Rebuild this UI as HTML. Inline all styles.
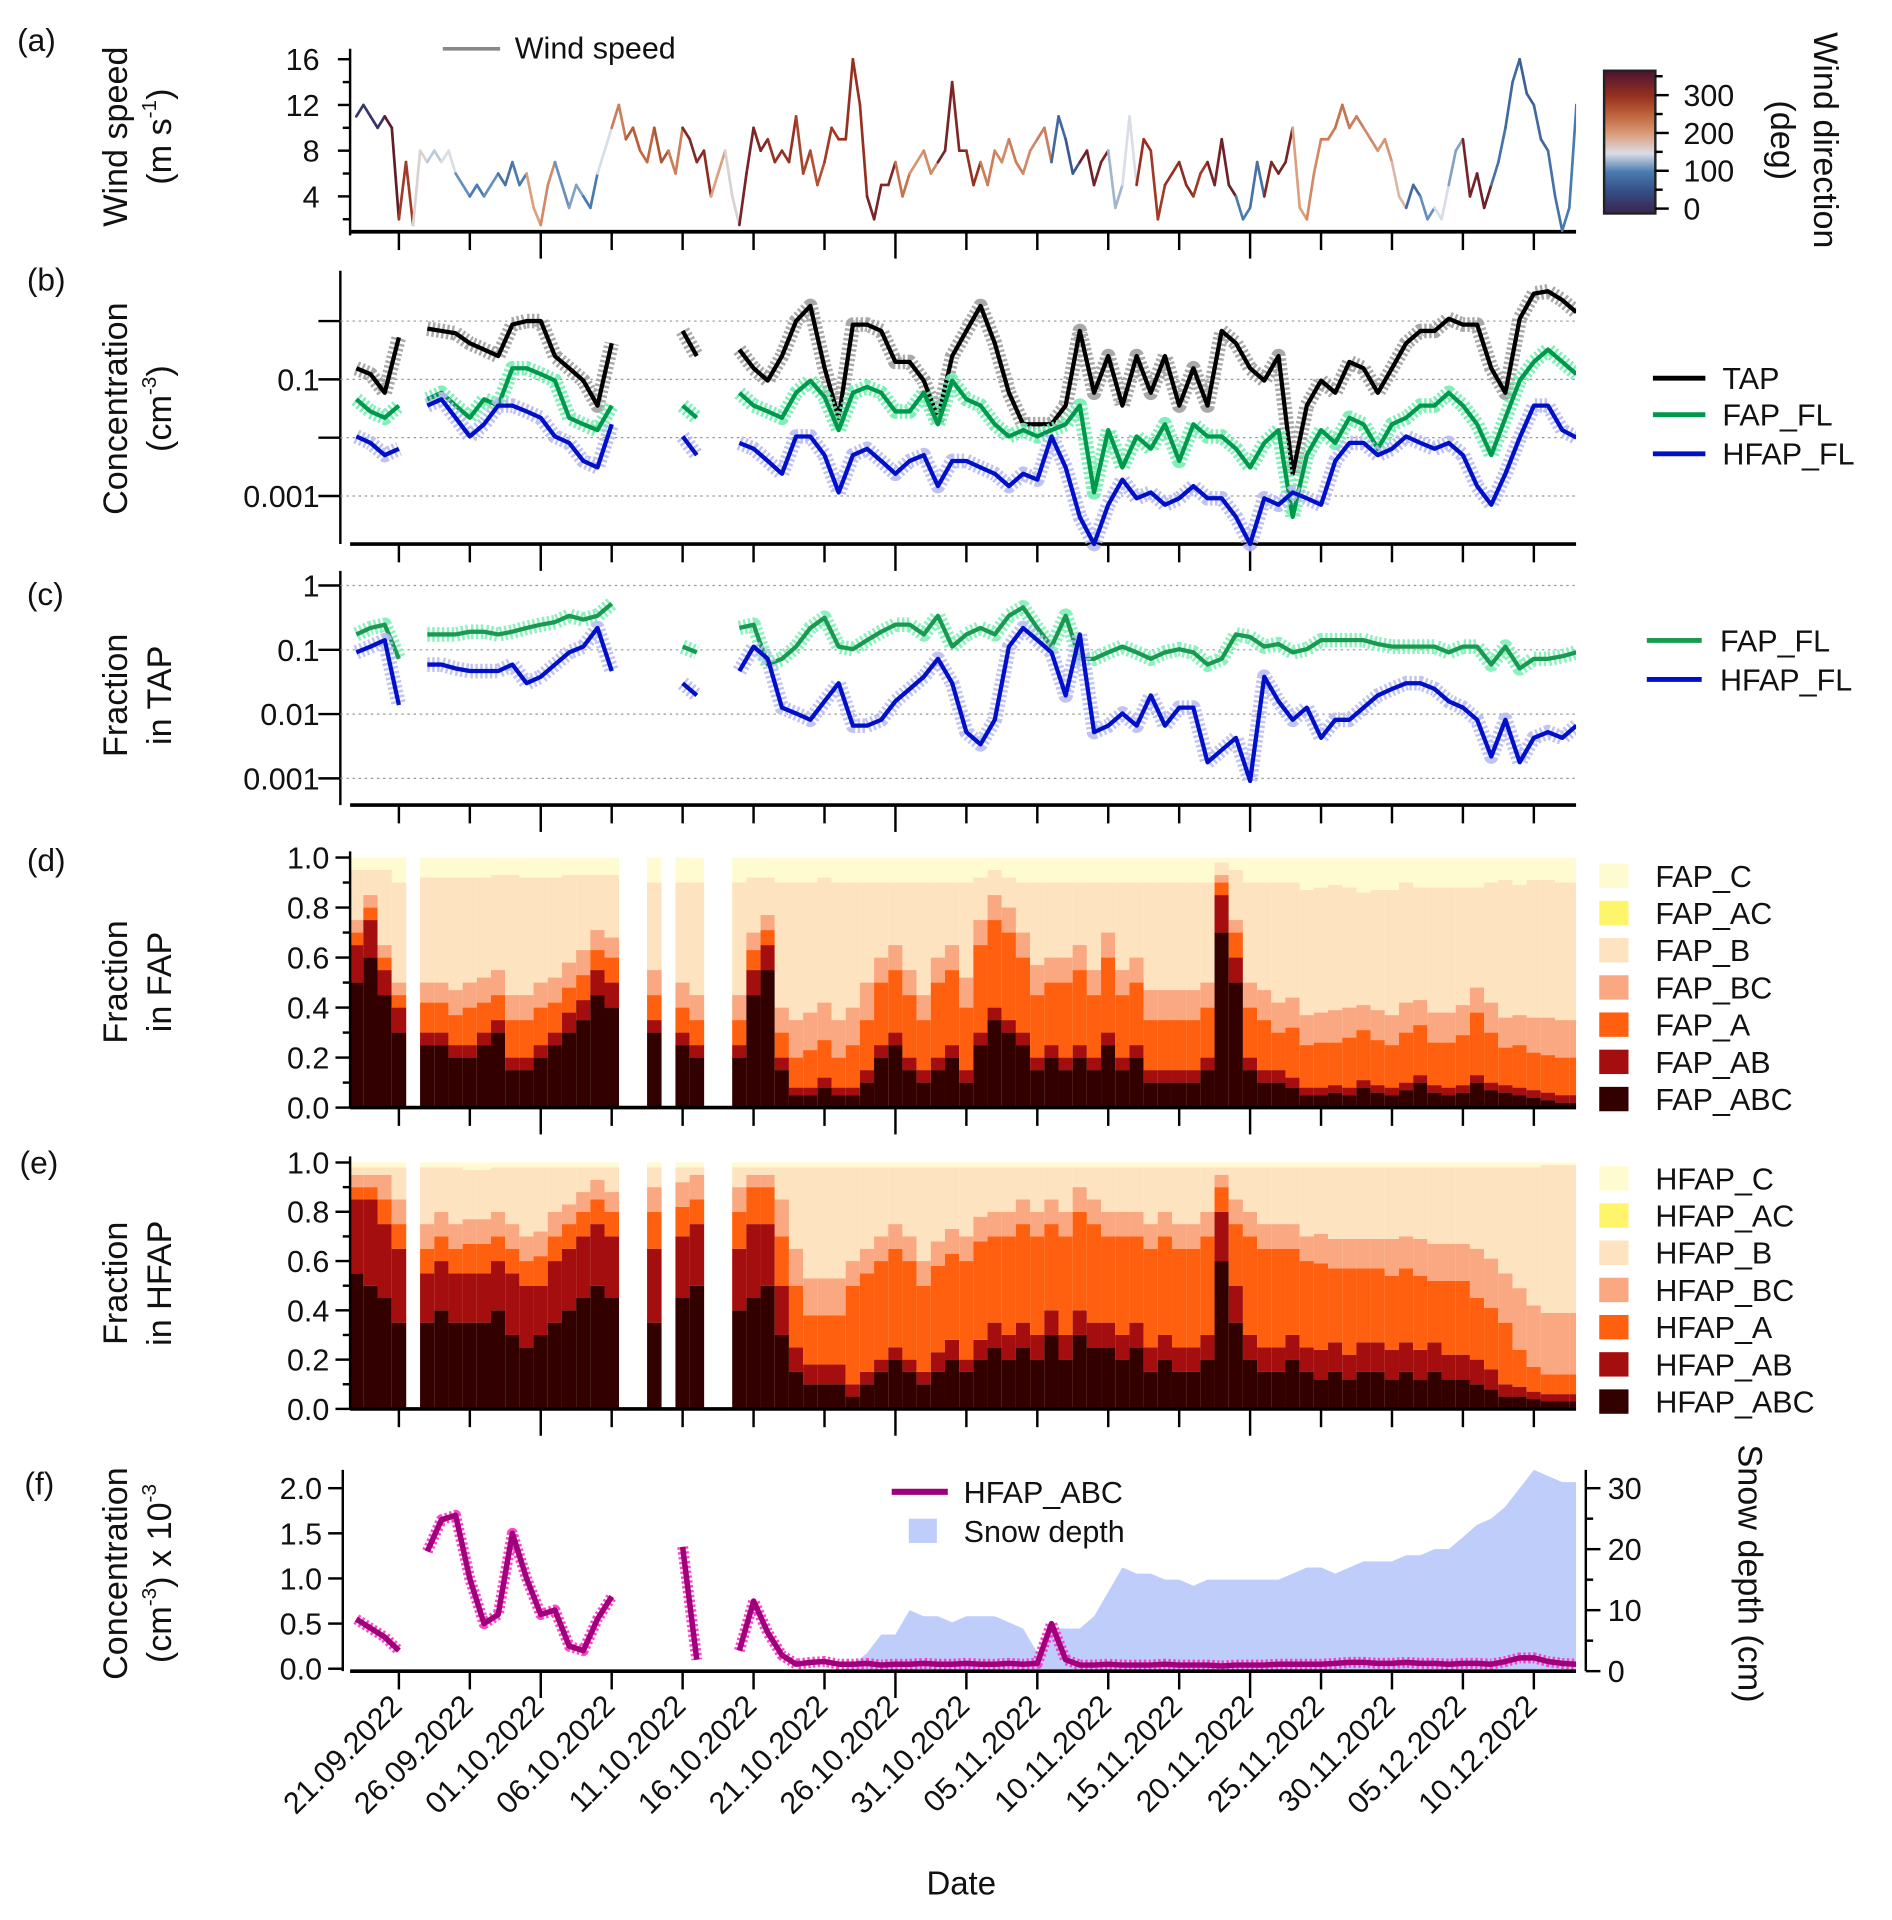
<!DOCTYPE html>
<html><head><meta charset="utf-8"><style>
html,body{margin:0;padding:0;background:#fff;}
svg{display:block;font-family:"Liberation Sans",Arial,sans-serif;}
</style></head><body>
<svg id="fig" width="1892" height="1920" viewBox="0 0 1551 1574" preserveAspectRatio="none" xmlns="http://www.w3.org/2000/svg">
<defs>
<linearGradient id="cbar" x1="0" y1="1" x2="0" y2="0">
<stop offset="0" stop-color="#3b2350"/><stop offset="0.16" stop-color="#354f86"/><stop offset="0.29" stop-color="#4a7bb0"/><stop offset="0.42" stop-color="#d9dde6"/><stop offset="0.55" stop-color="#dba080"/><stop offset="0.68" stop-color="#c0683f"/><stop offset="0.82" stop-color="#973020"/><stop offset="1" stop-color="#4b1430"/>
</linearGradient>
<clipPath id="plotclip"><rect x="287" y="0" width="1005" height="1574"/></clipPath>
</defs>
<g id="layer"></g>
</svg>
<script>
// ---------- DATA ----------
const dayStart = -3; // days relative to 21.09.2022
const tickDays = [0,5,10,15,20,25,30,35,40,45,50,55,60,65,70,75,80];
const tickLabels = ["21.09.2022","26.09.2022","01.10.2022","06.10.2022","11.10.2022","16.10.2022","21.10.2022","26.10.2022","31.10.2022","05.11.2022","10.11.2022","15.11.2022","20.11.2022","25.11.2022","30.11.2022","05.12.2022","10.12.2022"];
// wind speed every half day from day -3
const windSpeed = [11,12,11,10,11,10,2,7,1.5,8,7,8,7,8,6,5,4,5,4,5,6,5,7,5,6,3,1.5,5,7,5,3,5,4,3,6,8,10,12,9,10,8,7,10,7,8,6,10,9,7,8,4,6,8,4,1.5,6,10,8,9,7,8,7,11,6,8,5,7,10,9,9,16,12,4,2,5,5,7,4,6,7,8,6,7,8,14,8,8,5,7,5,8,7,9,7,6,8,9,10,7,11,9,6,7,8,5,7,8,3,5,11,5,9,8,2,5,6,7,5,4,6,7,5,9,5,4,2,3,7,4,7,6,7,10,3,2,6,9,9,10,12,10,11,10,9,8,9,7,4,3,5,4,2,3,2,5,8,9,4,6,3,5,7,10,14,16,13,12,9,8,4,1,3,12,9];
// wind direction per day (deg)
const windDir = [20,10,350,290,160,140,150,110,100,110,90,100,200,220,110,120,100,150,230,260,250,270,230,320,310,200,160,330,320,300,300,280,270,290,300,300,330,320,240,210,220,330,320,300,230,220,230,220,230,80,60,340,330,130,150,300,290,300,310,290,330,340,100,90,320,330,200,220,230,240,230,220,210,180,80,110,150,120,330,340,90,80,70,80,90,100,80];
// panel b: log10 concentration (cm-3), per day, null = no data
const tapLog = [-0.81,-0.91,-1.23,-0.28,null,-0.13,-0.17,-0.21,-0.38,-0.49,-0.6,-0.06,0,0,-0.6,-0.81,-1.02,-1.45,-0.38,null,null,-0.45,null,-0.17,-0.6,null,null,-0.49,-0.81,-1.02,-0.6,0,0.26,-0.8,-1.66,-0.06,-0.06,-0.17,-0.7,-0.7,-1.02,-1.66,-0.6,-0.17,0.26,-0.38,-1.23,-1.77,-1.77,-1.77,-1.45,-0.17,-1.23,-0.6,-1.45,-0.6,-1.23,-0.6,-1.45,-0.81,-1.45,-0.17,-0.38,-0.81,-1.02,-0.6,-2.62,-1.45,-1.02,-1.23,-0.7,-0.81,-1.23,-0.81,-0.38,-0.17,-0.17,0.04,-0.06,-0.06,-0.81,-1.23,0.04,0.47,0.51,0.36,0.15];
const fapFlLog = [-1.34,-1.55,-1.66,-1.45,null,-1.34,-1.23,-1.45,-1.66,-1.34,-1.45,-0.81,-0.81,-0.91,-1.02,-1.66,-1.77,-1.87,-1.45,null,null,-1.77,null,-1.45,-1.66,null,null,-1.23,-1.45,-1.55,-1.66,-1.23,-1.02,-1.3,-1.87,-1.23,-1.13,-1.23,-1.55,-1.55,-1.23,-1.77,-1.02,-1.34,-1.45,-1.77,-1.98,-1.87,-1.98,-1.87,-1.77,-1.45,-2.94,-1.87,-2.51,-1.98,-2.19,-1.77,-2.4,-1.77,-1.98,-1.98,-2.19,-2.51,-2.09,-1.87,-3.36,-2.3,-1.87,-2.09,-1.66,-1.77,-2.19,-1.77,-1.66,-1.45,-1.45,-1.23,-1.45,-1.77,-2.3,-1.66,-1.02,-0.7,-0.49,-0.7,-0.91];
const hfapFlLog = [-1.98,-2.09,-2.3,-2.19,null,-1.45,-1.34,-1.66,-1.98,-1.77,-1.45,-1.45,-1.55,-1.66,-1.98,-2.09,-2.4,-2.51,-1.77,null,null,-1.98,null,-1.98,-2.3,null,null,-2.09,-2.19,-2.4,-2.62,-1.98,-1.98,-2.3,-2.94,-2.3,-2.19,-2.4,-2.62,-2.4,-2.3,-2.83,-2.4,-2.4,-2.51,-2.62,-2.83,-2.62,-2.72,-1.98,-2.51,-3.36,-3.89,-3.15,-2.72,-3.04,-2.94,-3.15,-3.04,-2.83,-3.04,-3.04,-3.36,-3.89,-3.04,-3.15,-2.94,-3.04,-3.15,-2.4,-2.09,-2.09,-2.3,-2.19,-1.98,-2.09,-2.19,-2.09,-2.3,-2.83,-3.15,-2.62,-2.0,-1.45,-1.45,-1.87,-2.0];
// panel c: log10 fraction in TAP
const fapFracLog = [-0.76,-0.66,-0.61,-1.14,null,-0.76,-0.76,-0.76,-0.72,-0.72,-0.76,-0.72,-0.66,-0.61,-0.57,-0.47,-0.53,-0.47,-0.28,null,null,-1.04,null,-0.95,-1.04,null,null,-0.66,-0.61,-1.23,-1.14,-0.95,-0.66,-0.5,-0.95,-0.99,-0.85,-0.72,-0.61,-0.61,-0.76,-0.47,-0.95,-0.76,-0.66,-0.76,-0.47,-0.34,-0.66,-0.95,-0.47,-1.14,-1.14,-1.04,-0.95,-1.04,-1.14,-1.04,-0.99,-1.04,-1.23,-1.14,-0.76,-0.8,-0.95,-0.91,-1.04,-0.99,-0.85,-0.85,-0.85,-0.85,-0.91,-0.95,-0.95,-0.95,-0.95,-1.04,-0.95,-0.95,-1.23,-0.95,-1.29,-1.14,-1.14,-1.1,-1.04];
const hfapFracLog = [-1.04,-0.95,-0.85,-1.86,null,-1.23,-1.23,-1.29,-1.33,-1.33,-1.33,-1.23,-1.52,-1.42,-1.23,-1.04,-0.95,-0.66,-1.33,null,null,-1.52,null,-1.52,-1.71,null,null,-1.33,-0.95,-1.14,-1.9,-1.99,-2.09,-1.8,-1.52,-2.18,-2.18,-2.09,-1.8,-1.61,-1.42,-1.14,-1.52,-2.28,-2.47,-2.09,-0.95,-0.66,-0.85,-1.04,-1.71,-0.76,-2.28,-2.18,-1.99,-2.18,-1.71,-2.18,-1.9,-1.9,-2.75,-2.56,-2.37,-3.04,-1.42,-1.8,-2.09,-1.9,-2.37,-2.09,-2.09,-1.9,-1.71,-1.61,-1.52,-1.52,-1.61,-1.8,-1.9,-2.09,-2.66,-2.09,-2.75,-2.37,-2.28,-2.37,-2.18];
// panel d: fraction in FAP per class (C = remainder)
const fapABC = [.5,.6,.45,.3,null,.25,.25,.2,.2,.25,.3,.15,.15,.2,.25,.3,.35,.45,.4,null,null,.3,null,.25,.2,null,null,.2,.45,.55,.15,.05,.05,.08,.05,.05,.1,.2,.25,.15,.1,.15,.2,.1,.25,.35,.3,.25,.15,.2,.15,.2,.15,.25,.15,.2,.1,.1,.1,.1,.15,.7,.5,.15,.1,.1,.08,.05,.05,.06,.05,.08,.06,.05,.07,.1,.06,.05,.06,.1,.07,.06,.05,.04,.03,.02,.02];
const fapAB = [.15,.15,.1,.1,null,.05,.05,.05,.05,.05,.05,.05,.05,.05,.05,.08,.08,.1,.1,null,null,.05,null,.05,.05,null,null,.05,.1,.1,.05,.03,.03,.04,.03,.03,.05,.05,.05,.05,.05,.05,.05,.05,.05,.05,.05,.05,.05,.05,.05,.05,.05,.05,.05,.05,.05,.05,.05,.05,.05,.15,.1,.05,.05,.05,.04,.03,.03,.03,.03,.03,.03,.03,.03,.03,.03,.03,.03,.03,.03,.03,.03,.03,.03,.03,.03];
const fapA = [.05,.05,.05,.05,null,.12,.12,.12,.15,.12,.1,.15,.15,.15,.12,.1,.1,.08,.1,null,null,.1,null,.1,.1,null,null,.1,.08,.06,.1,.12,.15,.15,.12,.17,.2,.25,.25,.25,.2,.3,.3,.25,.35,.35,.35,.3,.25,.25,.3,.3,.25,.3,.25,.25,.2,.2,.2,.2,.2,.05,.1,.2,.2,.15,.2,.17,.18,.17,.2,.2,.18,.17,.2,.2,.17,.18,.2,.25,.2,.15,.17,.15,.15,.15,.15];
const fapBC = [.05,.05,.05,.05,null,.08,.08,.1,.1,.1,.1,.1,.1,.1,.1,.1,.1,.08,.08,null,null,.1,null,.1,.1,null,null,.1,.07,.06,.1,.15,.15,.15,.15,.15,.15,.1,.1,.1,.1,.1,.1,.12,.1,.1,.1,.1,.12,.1,.1,.1,.1,.1,.1,.1,.12,.12,.12,.12,.1,.03,.05,.1,.12,.12,.12,.12,.12,.13,.12,.1,.12,.12,.12,.1,.12,.12,.12,.1,.12,.12,.12,.14,.15,.15,.15];
const fapB = [.2,.1,.3,.4,null,.42,.42,.45,.42,.4,.38,.48,.47,.42,.4,.35,.3,.22,.25,null,null,.35,null,.4,.45,null,null,.45,.22,.15,.5,.55,.52,.5,.55,.5,.4,.3,.25,.35,.45,.3,.25,.38,.17,.1,.12,.2,.33,.3,.3,.25,.35,.2,.35,.3,.43,.43,.43,.43,.4,.05,.2,.4,.43,.48,.46,.5,.5,.5,.48,.45,.48,.5,.48,.45,.5,.5,.47,.4,.48,.55,.52,.55,.55,.55,.55];
// panel e: fraction in HFAP per class
const hfapABC = [.55,.5,.45,.35,null,.35,.4,.35,.35,.35,.4,.3,.25,.3,.35,.4,.45,.5,.45,null,null,.35,null,.45,.5,null,null,.4,.45,.5,.3,.15,.1,.1,.1,.05,.1,.15,.2,.15,.1,.15,.2,.15,.2,.25,.2,.25,.2,.3,.2,.3,.25,.25,.2,.25,.15,.2,.15,.15,.2,.6,.35,.2,.15,.15,.2,.15,.12,.15,.12,.15,.15,.12,.15,.12,.15,.12,.12,.1,.08,.05,.05,.04,.03,.03,.03];
const hfapAB = [.3,.35,.3,.3,null,.2,.2,.2,.2,.2,.2,.25,.25,.2,.25,.25,.25,.25,.25,null,null,.3,null,.25,.25,null,null,.25,.3,.25,.2,.1,.08,.08,.08,.05,.05,.05,.05,.05,.05,.08,.08,.05,.08,.1,.1,.1,.1,.1,.1,.1,.1,.1,.1,.1,.1,.1,.1,.1,.1,.2,.15,.1,.1,.1,.1,.1,.12,.12,.1,.12,.12,.12,.12,.12,.12,.1,.1,.1,.08,.05,.04,.03,.03,.03,.03];
const hfapA = [.05,.05,.1,.1,null,.1,.1,.1,.12,.12,.1,.1,.1,.12,.1,.1,.1,.1,.1,null,null,.15,null,.12,.1,null,null,.15,.15,.15,.2,.25,.2,.2,.2,.4,.4,.4,.4,.4,.35,.35,.35,.4,.4,.35,.4,.4,.4,.35,.4,.4,.4,.35,.4,.35,.4,.4,.4,.4,.4,.1,.25,.4,.4,.4,.35,.35,.35,.3,.35,.3,.3,.3,.3,.3,.25,.3,.3,.25,.25,.25,.15,.1,.08,.08,.08];
const hfapBC = [.05,.05,.1,.1,null,.1,.1,.1,.1,.1,.1,.1,.1,.1,.1,.08,.08,.08,.08,null,null,.1,null,.1,.1,null,null,.1,.05,.05,.15,.15,.15,.15,.15,.1,.1,.1,.1,.1,.1,.1,.1,.1,.1,.1,.1,.1,.1,.1,.1,.1,.1,.1,.1,.1,.1,.1,.1,.1,.1,.05,.1,.1,.1,.1,.1,.1,.12,.12,.12,.12,.12,.15,.13,.15,.15,.15,.15,.2,.2,.2,.25,.25,.25,.25,.25];
const hfapB = [.03,.03,.03,.13,null,.23,.18,.23,.2,.2,.18,.23,.28,.26,.18,.15,.1,.05,.1,null,null,.08,null,.06,.03,null,null,.08,.03,.03,.13,.33,.45,.45,.45,.38,.33,.28,.23,.28,.38,.3,.25,.28,.2,.18,.18,.13,.18,.13,.18,.08,.13,.18,.18,.18,.23,.18,.23,.23,.18,.03,.13,.18,.23,.23,.23,.28,.27,.29,.29,.29,.29,.29,.28,.29,.31,.31,.31,.33,.37,.43,.49,.56,.6,.6,.6];
// panel f: HFAP_ABC concentration (x1e-3 cm-3) and snow depth (cm)
const hfapAbcConc = [.55,.45,.35,.2,null,1.3,1.65,1.7,1.0,.5,.6,1.5,1.0,.6,.65,.25,.2,.55,.8,null,null,.2,null,1.35,.1,null,null,.2,.75,.4,.15,.05,.07,.08,.05,.05,.06,.04,.05,.05,.06,.05,.05,.06,.05,.05,.06,.05,.06,.5,.1,.04,.04,.05,.04,.04,.04,.05,.04,.04,.04,.03,.04,.04,.04,.05,.05,.05,.05,.06,.07,.07,.06,.06,.07,.06,.06,.05,.06,.06,.05,.08,.12,.12,.08,.06,.05];
const snowStartDay = 31;
const snowCm = [0,1,3,6,6,10,9,9,8,9,9,9,8,7,3,7,7,7,9,13,17,16,16,15,15,14,15,15,15,15,15,15,16,17,17,16,17,18,18,18,19,19,20,20,22,24,25,27,30,33,32,31,31];
const windDirTicks = [0,100,200,300];
const legendD = ["FAP_C","FAP_AC","FAP_B","FAP_BC","FAP_A","FAP_AB","FAP_ABC"];
const legendE = ["HFAP_C","HFAP_AC","HFAP_B","HFAP_BC","HFAP_A","HFAP_AB","HFAP_ABC"];
const classColors = ["#fffbd0","#fff56a","#fde3c0","#f9a882","#ff6010","#a50e0e","#330000"];

// ---------- DRAWING ----------
const NS = "http://www.w3.org/2000/svg";
const L = document.getElementById('layer');
function mk(tag, attrs, parent){const e=document.createElementNS(NS,tag);for(const k in attrs)e.setAttribute(k,attrs[k]);(parent||L).appendChild(e);return e;}
function txt(s,x,y,size,anchor,extra){const t=mk('text',Object.assign({x:x,y:y,'font-size':size,'text-anchor':anchor||'start',fill:'#111'},extra||{}));t.textContent=s;return t;}
const X0=287, X1=1292;
function xD(d){return 327+11.63*d;}
function dayOf(i){return dayStart+i;}

function dirColor(v){
  const st=[[-10,[59,35,80]],[50,[53,79,134]],[100,[74,123,176]],[150,[217,221,230]],[200,[219,160,128]],[250,[192,104,63]],[300,[151,48,32]],[370,[75,20,48]]];
  for(let k=0;k<st.length-1;k++){if(v<=st[k+1][0]){const t=(v-st[k][0])/(st[k+1][0]-st[k][0]);const a=st[k][1],b=st[k+1][1];return 'rgb('+a.map((c,j)=>Math.round(c+(b[j]-c)*t)).join(',')+')';}}
  return 'rgb(75,20,48)';
}
function xAxis(y, name){
  const g=mk('g',{});
  
  
  mk('line',{x1:X0,y1:y,x2:X1,y2:y,stroke:'#000','stroke-width':3},g);
  tickDays.forEach((d,k)=>{const long=(k%5===2);mk('line',{x1:xD(d),y1:y,x2:xD(d),y2:y+(long?22:15),stroke:'#000','stroke-width':2},g);});
}
function yAxisLine(x,y0,y1,name){
  const l=mk('line',{x1:x,y1:y0,x2:x,y2:y1,stroke:'#000','stroke-width':2});
  
  
}
function ytick(x,y,len){mk('line',{x1:x-len,y1:y,x2:x,y2:y,stroke:'#000','stroke-width':2});}
function vtitle(lines,cx,cy,size,rot){
  lines.forEach((s,k)=>{const x=cx[k];const t=mk('text',{x:x,y:cy,'font-size':size,'text-anchor':'middle',fill:'#111',transform:'rotate('+rot+' '+x+' '+cy+')'});t.innerHTML=s;});
}
function pathFrom(arr, fx, fy){
  let d='',pen=false;
  arr.forEach((v,i)=>{if(v===null||v===undefined){pen=false;return;}const x=fx(i),y=fy(v);d+=(pen?'L':'M')+x.toFixed(1)+' '+y.toFixed(1);pen=true;});
  return d;
}
function label(s,x,y){const t=txt(s,x,y,26,'start');}

// ===== Panel (a) =====
label('(a)',14,42);
vtitle(['Wind speed','(m s<tspan dy="-12" font-size="17">-1</tspan><tspan dy="12">)</tspan>'],[104,140],112,28,-90);
yAxisLine(287,40,193,'wind-speed-y-axis');
const ya=v=>161-(v-4)*9.37;
[4,8,12,16].forEach(v=>{ytick(287,ya(v),10);const t=txt(String(v),262,ya(v)+9,25,'end');});
[2,6,10,14].forEach(v=>ytick(287,ya(v),6));
xAxis(190,'panel-a-x-axis');
const wg=mk('g',{'clip-path':'url(#plotclip)'});


for(let i=0;i<windSpeed.length-1;i++){
  const d0=dayStart+i*0.5,d1=d0+0.5;
  const col=dirColor(windDir[Math.min(windDir.length-1,Math.floor(i/2))]);
  mk('line',{x1:xD(d0),y1:ya(windSpeed[i]),x2:xD(d1),y2:ya(windSpeed[i+1]),stroke:col,'stroke-width':2.2,'stroke-linecap':'round'},wg);
}
mk('line',{x1:363,y1:40,x2:410,y2:40,stroke:'#888','stroke-width':3});
txt('Wind speed',422,48,25,'start');
const cb=mk('rect',{x:1315,y:58,width:42,height:117,fill:'url(#cbar)',stroke:'#222','stroke-width':2});


const ycb=v=>171-v*0.31;
windDirTicks.forEach(v=>{mk('line',{x1:1357,y1:ycb(v),x2:1368,y2:ycb(v),stroke:'#000','stroke-width':2});txt(String(v),1380,ycb(v)+9,25,'start');});
[50,150,250,350].forEach(v=>mk('line',{x1:1357,y1:ycb(v),x2:1363,y2:ycb(v),stroke:'#000','stroke-width':2}));
vtitle(['Wind direction','(deg)'],[1487,1452],115,28,90);

// ===== Panel (b) =====
label('(b)',22,238);
vtitle(['Concentration','(cm<tspan dy="-12" font-size="17">-3</tspan><tspan dy="12">)</tspan>'],[104,140],335,28,-90);
yAxisLine(279,222,446,'concentration-y-axis');
const yb=lg=>311-(lg+1)*47.8;
[0,-1,-2,-3].forEach(lg=>{mk('line',{x1:279,y1:yb(lg),x2:X1,y2:yb(lg),stroke:'#999','stroke-width':1,'stroke-dasharray':'2 3'});ytick(279,yb(lg),18);});
txt('0.1',262,yb(-1)+9,25,'end');
txt('0.001',262,yb(-3)+9,25,'end');
xAxis(446,'panel-b-x-axis');
function series(arr,fy,raw,line,name,rawW,lineW,clipY0,clipY1){
  const g=mk('g',{'clip-path':'url(#plotclip)'});
  
  
  const fyc=v=>Math.max(clipY0,Math.min(clipY1,fy(v)));
  mk('path',{d:pathFrom(arr,i=>xD(dayOf(i)),fyc),fill:'none',stroke:raw,'stroke-width':rawW,'stroke-dasharray':'2 2','stroke-linejoin':'round',opacity:0.9},g);
  mk('path',{d:pathFrom(arr,i=>xD(dayOf(i)),fyc),fill:'none',stroke:line,'stroke-width':lineW,'stroke-linejoin':'round'},g);
}
series(tapLog,yb,'#a0a0a0','#000','tap-series',12,3.5,222,446);
series(fapFlLog,yb,'#70eeb0','#00994c','fap-fl-series',12,3.5,222,446);
series(hfapFlLog,yb,'#b8baf2','#0010c8','hfap-fl-series',12,3.5,222,446);
[['TAP','#000',310],['FAP_FL','#00994c',340],['HFAP_FL','#0010c8',372]].forEach(([n,c,y])=>{
  mk('line',{x1:1355,y1:y,x2:1398,y2:y,stroke:c,'stroke-width':4});
  txt(n,1412,y+9,25,'start');
});

// ===== Panel (c) =====
label('(c)',22,496);
vtitle(['Fraction','in TAP'],[104,140],570,28,-90);
yAxisLine(279,468,660,'fraction-tap-y-axis');
const yc=lg=>480-lg*(-52.7)*-1; // lg<=0
const ycf=lg=>480-lg*52.7;
[[0,'1'],[-1,'0.1'],[-2,'0.01'],[-3,'0.001']].forEach(([lg,s])=>{mk('line',{x1:279,y1:ycf(lg),x2:X1,y2:ycf(lg),stroke:'#999','stroke-width':1,'stroke-dasharray':'2 3'});ytick(279,ycf(lg),18);txt(s,262,ycf(lg)+9,25,'end');});
xAxis(660,'panel-c-x-axis');
series(fapFracLog,ycf,'#80f0b8','#1a9a50','fap-fl-fraction-series',12,3.5,468,660);
series(hfapFracLog,ycf,'#babcf2','#0010c8','hfap-fl-fraction-series',12,3.5,468,660);
[['FAP_FL','#1a9a50',525],['HFAP_FL','#0010c8',557]].forEach(([n,c,y])=>{
  mk('line',{x1:1350,y1:y,x2:1395,y2:y,stroke:c,'stroke-width':4});
  txt(n,1410,y+9,25,'start');
});

// ===== Panels (d) & (e) stacked =====
function stacked(top,bottom,arrs,name){
  const H=bottom-top;
  const g=mk('g',{'clip-path':'url(#plotclip)'});
  
  
  const n=arrs[0].length;
  for(let i=0;i<n;i++){
    if(arrs[0][i]===null) continue;
    const d=dayOf(i), x=xD(d)-5.9, w=11.9;
    let cum=0;
    // order bottom->top: ABC, AB, A, BC, B, then C remainder
    const cols=[classColors[6],classColors[5],classColors[4],classColors[3],classColors[2]];
    mk('rect',{x:x,y:top,width:w,height:H,fill:classColors[0]},g);
    arrs.forEach((a,k)=>{const v=a[i];const r=mk('rect',{x:x,y:bottom-(cum+v)*H,width:w,height:v*H,fill:cols[k]},g);cum+=v;});
  }
}
function fracAxis(top,bottom,name){
  yAxisLine(287,top-5,bottom,name);
  [0,.2,.4,.6,.8,1].forEach(v=>{const y=bottom-v*(bottom-top);ytick(287,y,12);txt(v.toFixed(1),270,y+9,25,'end');});
  [.1,.3,.5,.7,.9].forEach(v=>ytick(287,bottom-v*(bottom-top),6));
}
label('(d)',22,714);
vtitle(['Fraction','in FAP'],[104,140],805,28,-90);
stacked(703,908,[fapABC,fapAB,fapA,fapBC,fapB],'fap-class-stacked-bars');
fracAxis(703,908,'fraction-fap-y-axis');
xAxis(908,'panel-d-x-axis');
legendD.forEach((n,k)=>{const y=718+k*30.5;mk('rect',{x:1311,y:y-10,width:24,height:20,fill:classColors[k]});txt(n,1357,y+9,25,'start');});

label('(e)',16,962);
vtitle(['Fraction','in HFAP'],[104,140],1052,28,-90);
stacked(953,1155,[hfapABC,hfapAB,hfapA,hfapBC,hfapB],'hfap-class-stacked-bars');
fracAxis(953,1155,'fraction-hfap-y-axis');
xAxis(1155,'panel-e-x-axis');
legendE.forEach((n,k)=>{const y=966+k*30.5;mk('rect',{x:1311,y:y-10,width:24,height:20,fill:classColors[k]});txt(n,1357,y+9,25,'start');});

// ===== Panel (f) =====
label('(f)',20,1225);
vtitle(['Concentration','(cm<tspan dy="-12" font-size="17">-3</tspan><tspan dy="12">) x 10</tspan><tspan dy="-12" font-size="17">-3</tspan>'],[104,140],1290,28,-90);
const yf=v=>1368-v*74;
const ys=v=>1370-v*5;
// snow area
let sd='M'+xD(snowStartDay)+' '+ys(0);
snowCm.forEach((v,k)=>{sd+='L'+xD(snowStartDay+k).toFixed(1)+' '+ys(v).toFixed(1);});
sd+='L'+xD(snowStartDay+snowCm.length-1).toFixed(1)+' '+ys(0)+'Z';
const sa=mk('path',{d:sd,fill:'#bfcdfb','clip-path':'url(#plotclip)'});


yAxisLine(281,1205,1370,'hfap-abc-y-axis');
[0,.5,1,1.5,2].forEach(v=>{ytick(281,yf(v),12);txt(v.toFixed(1),264,yf(v)+9,25,'end');});
series(hfapAbcConc,yf,'#ff30c8','#a0007a','hfap-abc-series',9,4.5,1200,1372);
yAxisLine(1300,1205,1370,'snow-depth-y-axis');
[0,10,20,30].forEach(v=>{mk('line',{x1:1300,y1:ys(v),x2:1312,y2:ys(v),stroke:'#000','stroke-width':2});txt(String(v),1318,ys(v)+9,25,'start');});
[5,15,25].forEach(v=>mk('line',{x1:1300,y1:ys(v),x2:1306,y2:ys(v),stroke:'#000','stroke-width':2}));
vtitle(['Snow depth (cm)'],[1425],1290,28,90);
xAxis(1370,'panel-f-x-axis');
mk('line',{x1:731,y1:1223,x2:777,y2:1223,stroke:'#a0007a','stroke-width':5});
txt('HFAP_ABC',790,1232,25,'start');
mk('rect',{x:745,y:1245,width:23,height:20,fill:'#bfcdfb'});
txt('Snow depth',790,1264,25,'start');

// date labels
tickDays.forEach((d,k)=>{const x=xD(d)+4,y=1400;const t=mk('text',{x:x,y:y,'font-size':25,'text-anchor':'end',fill:'#111',transform:'rotate(-45 '+x+' '+y+')'});t.textContent=tickLabels[k];

});
txt('Date',788,1553,27,'middle');
</script>
</body></html>
